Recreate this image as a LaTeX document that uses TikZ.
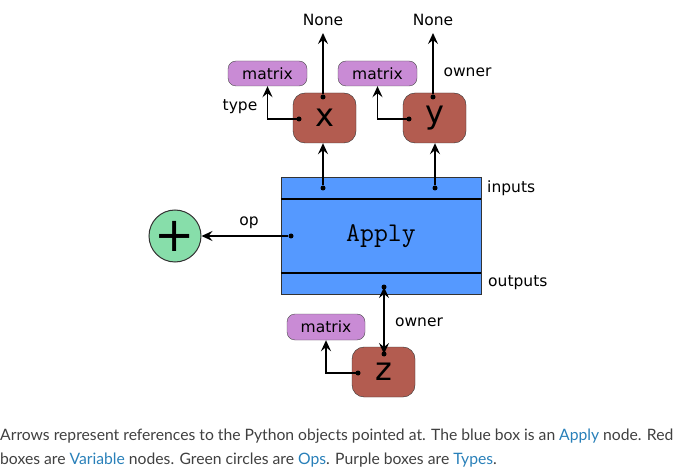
\documentclass[tikz,border=0pt]{standalone}
\usepackage{fontspec}
\setmainfont{DejaVu Sans}
\newfontfamily\capfont{Lato}
\usetikzlibrary{calc,positioning,arrows.meta,shapes}

\definecolor{varred}{HTML}{B35C50}
\definecolor{applyblue}{HTML}{5599FF}
\definecolor{opgreen}{HTML}{87DEAA}
\definecolor{typepurple}{HTML}{C98BD5}
\definecolor{captext}{HTML}{404040}
\definecolor{caplink}{HTML}{2980B9}

\begin{document}
\begin{tikzpicture}[x=1pt,y=-1pt,
  var/.style={draw=black!80,fill=varred,rounded corners=12pt,minimum width=63pt,minimum height=50pt,inner sep=0pt,font=\fontsize{32}{32}\selectfont},
  typ/.style={draw=black!70,fill=typepurple,rounded corners=8pt,minimum width=79pt,minimum height=25pt,inner sep=0pt,font=\fontsize{15.5}{16}\selectfont},
  bar/.style={draw=black!80,fill=applyblue,minimum width=200pt,inner sep=0pt},
  lbl/.style={font=\fontsize{15.5}{16}\selectfont,inner sep=0pt},
  dot/.style={fill=black,circle,inner sep=0pt,minimum size=5pt},
  tip/.style={Stealth[length=11pt,width=10pt,inset=4pt]},
  arr/.style={-{Stealth[length=11pt,width=10pt,inset=4pt]},line width=1.6pt},
  capline/.style={anchor=base west,inner sep=0pt,text=captext,font=\capfont\fontsize{15.7}{24}\selectfont}]
  \useasboundingbox (0,0) rectangle (685,470);

  % apply node
  \node[bar,minimum height=22pt] (inbar) at (381,188) {};
  \node[bar,minimum height=74pt,font=\ttfamily\fontsize{27}{27}\selectfont] (apply) at (381,236) {Apply};
  \node[bar,minimum height=21pt] (outbar) at (381,283.5) {};
  \draw[line width=1.6pt] (inbar.south west) -- (inbar.south east);
  \draw[line width=1.6pt] (outbar.north west) -- (outbar.north east);
  \node[lbl,anchor=west] (inlbl) at (487,188) {inputs};
  \node[lbl,anchor=west] (outlbl) at (488,283) {outputs};

  % variables
  \node[var] (x) at (324.5,118) {x};
  \node[var] (y) at (434.5,118) {y};
  \node[var] (z) at (383.5,372) {z};

  % types
  \node[typ] (mx) at (267.5,73.5) {matrix};
  \node[typ] (my) at (377.5,73.5) {matrix};
  \node[typ,minimum width=78pt,minimum height=26pt] (mz) at (326,327) {matrix};

  % op
  \node[draw=black!80,fill=opgreen,circle,minimum size=52pt,inner sep=0pt,line width=1pt,font=\fontsize{48}{48}\selectfont] (plus) at (175,236) {+};

  \node[lbl] (nonex) at (323,20) {None};
  \node[lbl] (noney) at (433,20) {None};
  \coordinate (nx) at (323,33);
  \coordinate (ny) at (433,33);

  % dots
  \node[dot] (inx) at (323,188) {};
  \node[dot] (iny) at (435,188) {};
  \node[dot] (xtop) at (323,97) {};
  \node[dot] (ytop) at (433,97) {};
  \node[dot] (xleft) at (299,119) {};
  \node[dot] (yleft) at (409,119) {};
  \node[dot] (opdot) at (291,236) {};
  \node[dot] (outdot) at (384,287) {};
  \node[dot] (ztop) at (384,354) {};
  \node[dot] (zleft) at (358,373) {};

  % references
  \draw[arr] (inx) -- (inx |- x.south);
  \draw[arr] (iny) -- (iny |- y.south);
  \draw[arr] (xtop) -- (nx);
  \draw[arr] (ytop) -- (ny);
  \draw[arr] (xleft.center) -| (mx.south);
  \draw[arr] (yleft.center) -| (my.south);
  \draw[arr] (zleft.center) -| (mz.south);
  \draw[arr] (opdot) -- (plus);
  \draw[line width=1.6pt,{Stealth[length=11pt,width=10pt,inset=4pt]}-{Stealth[length=11pt,width=10pt,inset=4pt]}] (outdot.center) -- (ztop.center);

  \node[lbl] (type) at (240,107) {type};
  \node[lbl] (owny) at (467.5,72) {owner};
  \node[lbl] (ownz) at (419,322) {owner};
  \node[lbl] (op) at (249,223) {op};

  % caption
  \node[capline] (cap1) at (0,440) {Arrows represent references to the Python objects pointed at. The blue box is an \textcolor{caplink}{Apply} node. Red};
  \node[capline] (cap2) at (0,464) {boxes are \textcolor{caplink}{Variable} nodes. Green circles are \textcolor{caplink}{Ops}. Purple boxes are \textcolor{caplink}{Types}.};
\end{tikzpicture}
\end{document}
